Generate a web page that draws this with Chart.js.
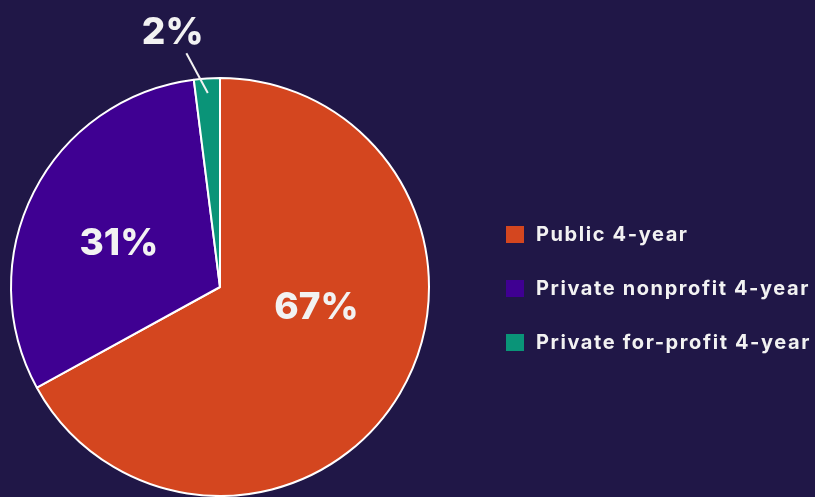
<!DOCTYPE html>
<html><head><meta charset="utf-8">
<script src="https://cdn.jsdelivr.net/npm/chart.js@4.4.0/dist/chart.umd.min.js"></script>
<style>
html,body{margin:0;padding:0;background:#201747;}
#wrap{width:815px;height:497px;position:relative;}
</style></head><body>
<div id="wrap"><canvas id="c" width="815" height="497"></canvas></div>
<script>
const categories = ["Public 4-year", "Private nonprofit 4-year", "Private for-profit 4-year"];
const shares = [67, 31, 2];
const valueLabels = ["67%", "31%", "2%"];
const colors = ["#D4461F", "#3F0092", "#0A9478"];

const FONT = "Inter, 'Open Sans', sans-serif";
const TEXT = "#F2F2F2";
// label placement: radius fraction and angle shift (radians) relative to slice mid-angle
const labelRadiusFrac = [0.47, 0.53, 1.245];
const labelAngleShift = [-0.34, -0.05, -0.12];

const labelPlugin = {
  id: 'sliceLabels',
  afterDatasetsDraw(chart) {
    const ctx = chart.ctx;
    const meta = chart.getDatasetMeta(0);
    ctx.save();
    ctx.fillStyle = TEXT;
    ctx.textAlign = 'center';
    ctx.textBaseline = 'middle';
    ctx.font = "800 37px " + FONT;
    meta.data.forEach((arc, i) => {
      const p = arc.getProps(['x','y','startAngle','endAngle','outerRadius'], true);
      const mid = (p.startAngle + p.endAngle) / 2 + labelAngleShift[i];
      const r = p.outerRadius * labelRadiusFrac[i];
      const lx = p.x + Math.cos(mid) * r;
      const ly = p.y + Math.sin(mid) * r;
      if (labelRadiusFrac[i] > 1) {
        const m2 = (p.startAngle + p.endAngle) / 2;
        ctx.strokeStyle = TEXT;
        ctx.lineWidth = 2;
        ctx.beginPath();
        ctx.moveTo(p.x + Math.cos(m2) * p.outerRadius * 0.93, p.y + Math.sin(m2) * p.outerRadius * 0.93);
        ctx.lineTo(p.x + Math.cos(mid + 0.04) * p.outerRadius * 1.13, p.y + Math.sin(mid + 0.04) * p.outerRadius * 1.13);
        ctx.stroke();
      }
      ctx.fillText(valueLabels[i], lx, ly + 2);
    });
    ctx.restore();
  }
};

const legendPlugin = {
  id: 'sideLegend',
  afterDraw(chart) {
    const ctx = chart.ctx;
    ctx.save();
    ctx.font = "700 20px " + FONT;
    ctx.letterSpacing = "1.6px";
    ctx.textBaseline = 'middle';
    ctx.textAlign = 'left';
    categories.forEach((c, i) => {
      const y = 235 + i * 54;
      ctx.fillStyle = colors[i];
      ctx.fillRect(506, y - 9, 18, 17);
      ctx.fillStyle = TEXT;
      ctx.fillText(c, 536, y);
    });
    ctx.restore();
  }
};

new Chart(document.getElementById('c'), {
  type: 'pie',
  data: {
    labels: categories,
    datasets: [{
      data: shares,
      backgroundColor: colors,
      borderColor: '#FFFFFF',
      borderWidth: 2
    }]
  },
  options: {
    responsive: false,
    animation: false,
    layout: { padding: { left: 10, right: 385, top: 77, bottom: 0 } },
    plugins: { legend: { display: false }, tooltip: { enabled: false } }
  },
  plugins: [labelPlugin, legendPlugin]
});
</script>
</body></html>
